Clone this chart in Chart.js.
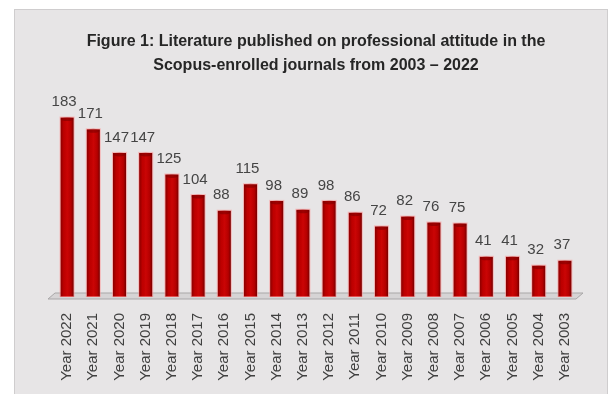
<!DOCTYPE html>
<html><head><meta charset="utf-8">
<script src="https://cdn.jsdelivr.net/npm/chart.js@4.4.1/dist/chart.umd.min.js"></script>
<style>html,body{margin:0;padding:0;background:#fff;overflow:hidden}canvas{display:block}</style>
</head><body>
<canvas id="c" width="616" height="394"></canvas>
<script>
const categories = ['Year 2022','Year 2021','Year 2020','Year 2019','Year 2018','Year 2017','Year 2016','Year 2015','Year 2014','Year 2013','Year 2012','Year 2011','Year 2010','Year 2009','Year 2008','Year 2007','Year 2006','Year 2005','Year 2004','Year 2003'];
const publications = [183,171,147,147,125,104,88,115,98,89,98,86,72,82,76,75,41,41,32,37];
const titleLines = ['Figure 1: Literature published on professional attitude in the','Scopus-enrolled journals from 2003 – 2022'];

const bgPlugin = {
  id: 'bg',
  beforeDraw(chart) {
    const c = chart.ctx;
    c.save();
    c.fillStyle = '#ffffff';
    c.fillRect(0, 0, chart.width, chart.height);
    c.fillStyle = '#e7e5e6';
    c.fillRect(14, 9, 594, 390);
    c.strokeStyle = '#cfcdce';
    c.lineWidth = 1;
    c.strokeRect(14.5, 9.5, 593, 390);
    c.restore();
  }
};

const floorPlugin = {
  id: 'floor',
  beforeDatasetsDraw(chart) {
    const x = chart.scales.x, y = chart.scales.y;
    const b = y.getPixelForValue(0);
    const c = chart.ctx;
    c.save();
    c.beginPath();
    c.moveTo(x.left - 6, b + 2);
    c.lineTo(x.left + 1, b - 4);
    c.lineTo(x.right + 5, b - 4);
    c.lineTo(x.right - 2, b + 2);
    c.closePath();
    c.fillStyle = '#d6d4d5';
    c.fill();
    c.strokeStyle = '#a9a7a8';
    c.lineWidth = 1;
    c.stroke();
    c.restore();
  }
};

const shadePlugin = {
  id: 'shade',
  afterDatasetsDraw(chart) {
    const c = chart.ctx;
    const meta = chart.getDatasetMeta(0);
    c.save();
    meta.data.forEach(el => {
      const p = el.getProps(['x','y','base','width'], true);
      const l = p.x - p.width / 2, r = p.x + p.width / 2;
      const g = c.createLinearGradient(l, 0, r, 0);
      g.addColorStop(0, 'rgba(90,0,0,0.55)');
      g.addColorStop(0.25, 'rgba(90,0,0,0.05)');
      g.addColorStop(0.5, 'rgba(255,40,40,0.12)');
      g.addColorStop(0.8, 'rgba(90,0,0,0.15)');
      g.addColorStop(1, 'rgba(60,0,0,0.6)');
      c.fillStyle = g;
      c.fillRect(l, p.y, p.width, p.base - p.y);
      c.fillStyle = 'rgba(120,0,0,0.55)';
      c.beginPath();
      c.ellipse(p.x, p.y + 1.5, p.width / 2, 2, 0, 0, Math.PI * 2);
      c.fill();
      c.strokeStyle = 'rgba(255,150,150,0.55)';
      c.lineWidth = 1;
      c.strokeRect(l - 0.5, p.y - 0.5, p.width + 1, p.base - p.y);
    });
    c.restore();
  }
};

const labelPlugin = {
  id: 'valueLabels',
  afterDatasetsDraw(chart) {
    const c = chart.ctx;
    const meta = chart.getDatasetMeta(0);
    const data = chart.data.datasets[0].data;
    c.save();
    c.font = '15px "Liberation Sans Narrow", "Liberation Sans", sans-serif';
    c.fillStyle = '#454545';
    c.textAlign = 'center';
    c.textBaseline = 'bottom';
    meta.data.forEach((el, i) => {
      const p = el.getProps(['x','y'], true);
      c.fillText(String(data[i]), p.x - 3, p.y - 8);
    });
    c.restore();
  }
};

new Chart(document.getElementById('c'), {
  type: 'bar',
  data: {
    labels: categories,
    datasets: [{
      data: publications,
      backgroundColor: '#c40000',
      borderWidth: 0,
      categoryPercentage: 1.0,
      barPercentage: 0.5
    }]
  },
  options: {
    responsive: false,
    animation: false,
    devicePixelRatio: 1,
    layout: { padding: { left: 54, right: 38, top: 0, bottom: 11 } },
    plugins: {
      legend: { display: false },
      tooltip: { enabled: false },
      title: {
        display: true,
        text: titleLines,
        color: '#262626',
        font: { family: '"Liberation Sans", sans-serif', size: 16, weight: 'bold', lineHeight: 1.5 },
        padding: { top: 30, bottom: 19 }
      }
    },
    scales: {
      x: {
        grid: { display: false, drawTicks: false },
        border: { display: false },
        afterFit(scale) { scale.height = 86; },
        ticks: {
          color: '#404040',
          font: { family: '"Liberation Sans", Arial, sans-serif', size: 15 },
          minRotation: 90, maxRotation: 90,
          padding: 16,
          autoSkip: false
        }
      },
      y: {
        display: false,
        min: 0,
        max: 204
      }
    }
  },
  plugins: [bgPlugin, floorPlugin, shadePlugin, labelPlugin]
});
</script>
</body></html>
